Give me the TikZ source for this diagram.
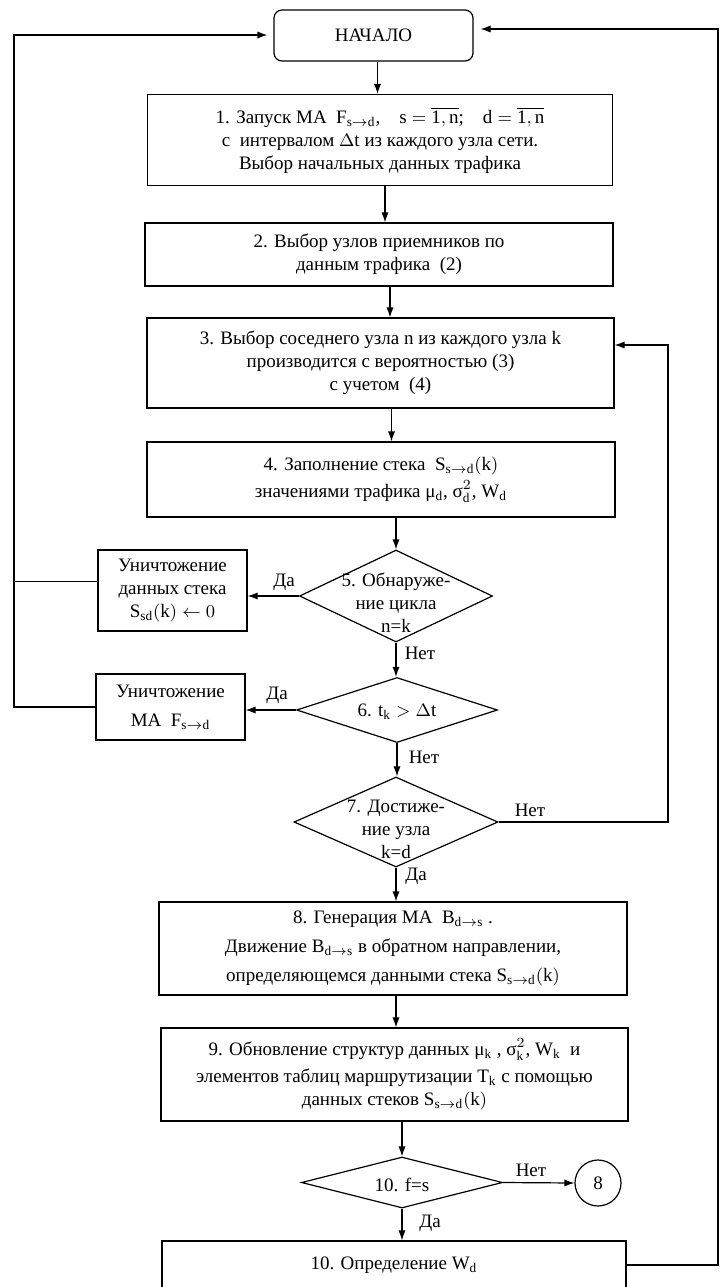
\documentclass[tikz,border=0pt]{standalone}
\usepackage{fontspec}
\setmainfont{Liberation Serif}
\setmathrm{Liberation Serif}
\usetikzlibrary{shapes.geometric,arrows.meta}

\tikzset{
  blok/.style={draw, rectangle, align=center, inner sep=2pt, line width=0.6pt},
  nachalo/.style={blok, rounded corners=4pt},
  romb/.style={draw, diamond, inner sep=0pt, line width=0.6pt},
  nadpis/.style={align=center, inner sep=0pt},
  metka/.style={inner sep=1pt},
  linija/.style={line width=0.6pt},
  strelka/.style={linija, -{Latex[length=5pt,width=3.6pt]}}
}

\begin{document}
\begin{tikzpicture}[x=0.5pt, y=-0.5pt, font=\fontsize{9.5}{11.5}\selectfont]
    \useasboundingbox (0,0) rectangle (719,1287);
    \clip (0,0) rectangle (719,1287);

    % main column
    \node[nachalo, minimum width=99.5pt, minimum height=25.5pt] (start) at (373.5,35.5) {НАЧАЛО};
    \node[blok, minimum width=232.5pt, minimum height=45.5pt] (b1) at (380,140)
        {1. Запуск МА\ \ $\mathrm{F_{s\to d}}$,\quad $\mathrm{s}=\overline{\mathrm{1,n}}$;\quad $\mathrm{d}=\overline{\mathrm{1,n}}$\\
         с\ \ интервалом $\Delta$t из каждого узла сети.\\
         Выбор начальных данных трафика};
    \node[blok, minimum width=234pt, minimum height=31.5pt] (b2) at (379,254.5)
        {2. Выбор узлов приемников по\\ данным трафика\ \ (2)};
    \node[blok, minimum width=233.5pt, minimum height=45pt] (b3) at (380.5,363)
        {3. Выбор соседнего узла n из каждого узла k\\
         производится с вероятностью (3)\\
         с учетом\ \ (4)};
    \node[blok, minimum width=234pt, minimum height=37.5pt] (b4) at (381,479.5)
        {4. Заполнение стека\ \ $\mathrm{S_{s\to d}(k)}$\\[2pt]
         значениями трафика μ$_\mathrm{d}$, σ$^2_\mathrm{d}$, $\mathrm{W_d}$};

    % checks
    \node[romb, minimum width=96.5pt, minimum height=46pt] (d5) at (396,596) {};
    \node[nadpis] (d5t) at (396,603) {5. Обнаруже-\\ние цикла\\n=k};
    \node[romb, minimum width=100.5pt, minimum height=32.5pt] (d6) at (397,710) {};
    \node[nadpis] (d6t) at (397,712) {6. $\mathrm{t_k}>\Delta\mathrm{t}$};
    \node[romb, minimum width=102pt, minimum height=45pt] (d7) at (396,822) {};
    \node[nadpis] (d7t) at (396,829) {7. Достиже-\\ние узла\\k=d};

    % side boxes
    \node[blok, minimum width=74.5pt, minimum height=40.5pt] (sbros) at (172.5,590.5)
        {Уничтожение\\данных стека\\$\mathrm{S_{sd}(k)}\leftarrow 0$};
    \node[blok, minimum width=74.5pt, minimum height=33pt] (ubit) at (170.5,707)
        {Уничтожение\\[3pt]МА\ \ $\mathrm{F_{s\to d}}$};

    \node[blok, minimum width=234pt, minimum height=46.5pt] (b8) at (393,948.5)
        {8. Генерация МА\ \ $\mathrm{B_{d\to s}}$ .\\[3pt]
         Движение\ $\mathrm{B_{d\to s}}$\ в обратном направлении,\\[3pt]
         определяющемся данными стека\ $\mathrm{S_{s\to d}(k)}$};
    \node[blok, minimum width=233.5pt, minimum height=46.5pt] (b9) at (394.5,1074.5)
        {9. Обновление структур данных\ μ$_\mathrm{k}$ , σ$^2_\mathrm{k}$, $\mathrm{W_k}$\ \ и\\[2pt]
         элементов таблиц маршрутизации $\mathrm{T_k}$\ с помощью\\
         данных стеков\ $\mathrm{S_{s\to d}(k)}$};
    \node[romb, minimum width=100.5pt, minimum height=25.5pt] (d10) at (402,1182.5) {};
    \node[nadpis] (d10t) at (402,1185) {10. f=s};
    \node[draw, circle, linija, minimum size=23pt, inner sep=0pt] (c8) at (598,1183) {8};
    \node[blok, minimum width=232pt, minimum height=24pt] (b10) at (394,1265)
        {10. Определение $\mathrm{W_d}$};

    % labels
    \node[metka] (da5) at (284,582) {Да};
    \node[metka] (net5) at (420,653) {Нет};
    \node[metka] (da6) at (277,695) {Да};
    \node[metka] (net6) at (424,757) {Нет};
    \node[metka] (net7) at (530,810) {Нет};
    \node[metka] (da7) at (416,876) {Да};
    \node[metka] (net10) at (531,1170) {Нет};
    \node[metka] (da10) at (430,1223) {Да};

    % loop points
    \coordinate (levo) at (14,35);
    \coordinate (vozvrat) at (668,345);
    \coordinate (pravo) at (718,29);

    % arrows down
    \draw[strelka] ([xshift=2pt]start.south) -- ([xshift=2pt]start.south |- b1.north);
    \draw[strelka] ([xshift=2.5pt]b1.south) -- ([xshift=2.5pt]b1.south |- b2.north);
    \draw[strelka] ([xshift=5.5pt]b2.south) -- ([xshift=5.5pt]b2.south |- b3.north);
    \draw[strelka] ([xshift=5.5pt]b3.south) -- ([xshift=5.5pt]b3.south |- b4.north);
    \draw[strelka] (d5.north |- b4.south) -- (d5.north);
    \draw[strelka] (d5.south) -- (d5.south |- d6.north);
    \draw[strelka] (d6.south) -- (d6.south |- d7.north);
    \draw[strelka] (d7.south) -- (d7.south |- b8.north);
    \draw[strelka] ([xshift=1.5pt]b8.south) -- ([xshift=1.5pt]b8.south |- b9.north);
    \draw[strelka] (d10.north |- b9.south) -- (d10.north);
    \draw[strelka] (d10.south) -- (d10.south |- b10.north);
    \draw[strelka] (d10.east) -- (c8.west);

    % Да branches
    \draw[strelka] (d5.west) -- (sbros.east |- d5.west);
    \draw[strelka] (d6.west) -- (ubit.east |- d6.west);
    \draw[strelka, shorten >=3pt] ([yshift=4.5pt]sbros.west) -| (levo) -- (start.west |- levo);
    \draw[linija] (ubit.west) -| (levo);

    % Нет loop back to 3
    \draw[strelka] (d7.east) -| (vozvrat) -- (b3.east |- vozvrat);

    % back to start
    \draw[strelka, shorten >=3.5pt] (b10.east) -| (pravo) -- (start.east |- pravo);
\end{tikzpicture}
\end{document}
